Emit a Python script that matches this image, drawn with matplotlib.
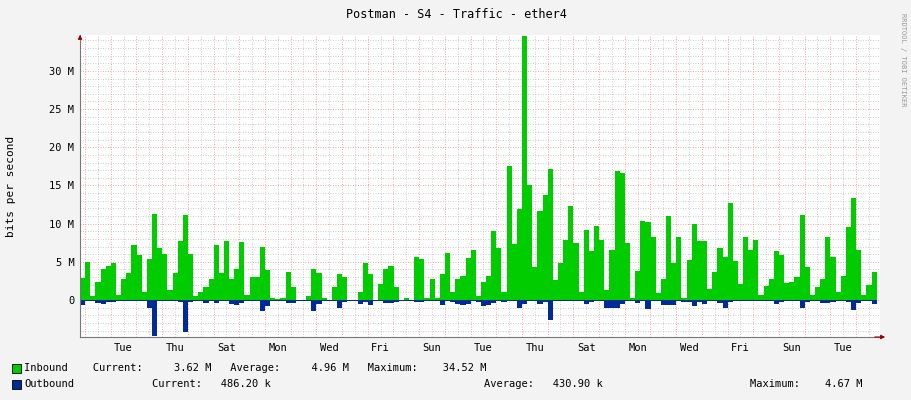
import matplotlib
matplotlib.use("Agg")
import matplotlib.pyplot as plt

# Traffic values in Mbit/s, one bar per step (~4.8 h)
inbound = [2.9, 5.0, 0.5, 2.3, 4.1, 4.4, 4.8, 0.7, 2.7, 3.5, 7.2, 5.9, 1.0, 5.3, 11.2, 6.8, 6.0, 1.3, 3.5, 7.7,
           11.1, 6.0, 0.5, 1.1, 1.7, 2.8, 7.2, 3.5, 7.7, 2.8, 4.1, 7.6, 0.7, 3.0, 3.0, 6.9, 3.9, 0.3, 0.1, 0.3, 3.6,
           1.7, 0, 0, 0.5, 4.0, 3.5, 0.2, 0, 1.7, 3.4, 3.0, 0, 0, 1.0, 4.8, 3.4, 0, 2.1, 4.1, 4.4, 1.7, 0, 0.3, 0,
           5.6, 5.3, 0.3, 2.7, 0.2, 3.4, 6.1, 1.0, 2.7, 3.2, 5.5, 6.6, 0.5, 2.3,
           3.1, 9.0, 6.8, 1.1, 17.6, 7.3, 11.9, 34.52, 15.0, 4.3, 11.6, 13.7, 17.1, 2.6, 4.9, 7.9, 12.3, 7.4, 1.1,
           9.1, 6.4, 9.7, 7.9, 1.3, 6.5, 16.9, 16.6, 7.4, 0.3, 3.8, 10.4, 10.2, 8.2, 0.9, 2.8, 11.0, 4.9, 8.2, 0.3, 5.2,
           9.9, 7.7, 7.7, 1.5, 3.6, 6.8, 5.6, 12.7, 5.1, 2.1, 8.3, 6.5, 7.9, 0.7, 1.8, 2.7, 6.4, 5.9, 2.2, 2.3, 3.0,
           11.1, 4.3, 0.7, 1.7, 2.8, 8.3, 5.6, 1.1, 3.2, 9.5, 13.3, 6.5, 0.7, 1.9, 3.6]
outbound = [-0.6, -0.1, -0.1, -0.4, -0.5, -0.3, -0.3, -0.1, -0.2, -0.2, -0.2, -0.2, -0.1, -1.0, -4.67, -0.2, -0.2,
            -0.1, -0.1, -0.3, -4.2, -0.3, -0.1, -0.1, -0.4, -0.2, -0.4, -0.2, -0.2, -0.5, -0.6, -0.4, -0.1, -0.1,
            -0.2, -1.5, -0.8, -0.1, -0.1, -0.1, -0.4,
            -0.4, -0.1, -0.1, -0.1, -1.5, -0.5, -0.1, -0.1, -0.2, -1.1, -0.3, -0.1, -0.1, -0.5, -0.3, -0.7, -0.1,
            -0.2, -0.4, -0.4, -0.3, -0.1, -0.1, -0.1, -0.3, -0.3, -0.1, -0.2, -0.1, -0.7, -0.2, -0.3, -0.5, -0.6,
            -0.5, -0.1, -0.3, -0.8,
            -0.7, -0.4, -0.1, -0.3, -0.2, -0.2, -1.0, -0.5, -0.2, -0.2, -0.5, -0.3, -2.6, -0.2, -0.2, -0.2, -0.2,
            -0.1, -0.2, -0.5, -0.3, -0.2, -0.1, -1.0, -1.0, -1.1, -0.5, -0.1, -0.2, -0.4, -0.2, -1.2, -0.2, -0.2,
            -0.6, -0.7, -0.6, -0.1, -0.3, -0.3,
            -0.8, -0.3, -0.5, -0.1, -0.2, -0.4, -1.0, -0.3, -0.2, -0.1, -0.2, -0.2, -0.2, -0.1, -0.1, -0.2, -0.5,
            -0.3, -0.1, -0.2, -0.2, -1.0, -0.3, -0.1, -0.1, -0.4, -0.4, -0.3, -0.1, -0.2, -0.3, -1.3, -0.4, -0.1,
            -0.2, -0.5]
n = min(len(inbound), len(outbound))
inbound, outbound = inbound[:n], outbound[:n]

day_labels = ["Tue", "Thu", "Sat", "Mon", "Wed", "Fri", "Sun", "Tue", "Thu", "Sat", "Mon", "Wed", "Fri", "Sun", "Tue"]
y_ticks = [0, 5, 10, 15, 20, 25, 30]
y_labels = ["0", "5 M", "10 M", "15 M", "20 M", "25 M", "30 M"]

span_days = 800 / 25.7
step = 0.2
first_midnight = 0.195
mono = "DejaVu Sans Mono"
red_grid = "#EE8888"
grey_grid = "#BBBBBB"

fig = plt.figure(figsize=(9.11, 4.0), dpi=100, facecolor="#F3F3F3")
ax = fig.add_axes([80 / 911, 63 / 400, 800 / 911, 302 / 400])
ax.set_facecolor("white")

x = [i * step for i in range(n)]
ax.bar(x, inbound, width=step, align="edge", color="#00CC00", linewidth=0)
ax.bar(x, outbound, width=step, align="edge", color="#002A97", linewidth=0)

ax.set_xlim(0, span_days)
ax.set_ylim(-4.85, 34.7)

# grid: minor grey, major red, both dotted
for v in range(-4, 35):
    ax.axhline(v, color=grey_grid if v % 5 else red_grid, lw=0.6, ls=(0, (1, 2)), zorder=0)
d = 0
while first_midnight + d < span_days:
    ax.axvline(first_midnight + d, color=red_grid, lw=0.6, ls=(0, (1, 2)), zorder=0)
    if first_midnight + d + 0.5 < span_days:
        ax.axvline(first_midnight + d + 0.5, color=grey_grid, lw=0.6, ls=(0, (1, 2)), zorder=0)
    d += 1

ax.set_yticks(y_ticks)
ax.set_yticklabels(y_labels, fontfamily=mono, fontsize=7.5)
ax.set_xticks([first_midnight + 1.5 + 2 * k for k in range(len(day_labels))])
ax.set_xticklabels(day_labels, fontfamily=mono, fontsize=7.5)
ax.tick_params(length=0, pad=4, colors="#000000")
for s in ["top", "right"]:
    ax.spines[s].set_visible(False)
for s in ["left", "bottom"]:
    ax.spines[s].set_color("#777777")
    ax.spines[s].set_linewidth(0.8)
ax.annotate("", xy=(0, 1.01), xytext=(0, 0.98), xycoords="axes fraction",
            arrowprops=dict(arrowstyle="-|>", color="#990000", lw=0.8, mutation_scale=6))
ax.annotate("", xy=(1.01, 0), xytext=(0.99, 0), xycoords="axes fraction",
            arrowprops=dict(arrowstyle="-|>", color="#990000", lw=0.8, mutation_scale=6))

ax.set_ylabel("bits per second", fontfamily=mono, fontsize=8)
ax.yaxis.set_label_coords(-64 / 800, 0.5)

fig.text(456 / 911, 1 - 14 / 400, "Postman - S4 - Traffic - ether4", ha="center", va="center",
         fontfamily=mono, fontsize=8.5)
fig.text(903 / 911, 1 - 60 / 400, "RRDTOOL / TOBI OETIKER", rotation=270, ha="center", va="center",
         fontfamily=mono, fontsize=5, color="#999999")

def legend_row(ypix, color, pieces):
    fig.patches.append(plt.Rectangle((12 / 911, 1 - (ypix + 5) / 400), 9 / 911, 9 / 400,
                                     transform=fig.transFigure, facecolor=color, edgecolor="black", lw=0.6))
    for xpix, txt in pieces:
        fig.text(xpix / 911, 1 - ypix / 400, txt, ha="left", va="center", fontfamily=mono, fontsize=7.5)

legend_row(368, "#00CC00", [(24, "Inbound    Current:     3.62 M   Average:     4.96 M   Maximum:    34.52 M")])
legend_row(384, "#002A97", [(24, "Outbound"), (152, "Current:   486.20 k"),
                            (484, "Average:   430.90 k"), (750, "Maximum:    4.67 M")])

fig.savefig("out.png", dpi=100, facecolor=fig.get_facecolor())
